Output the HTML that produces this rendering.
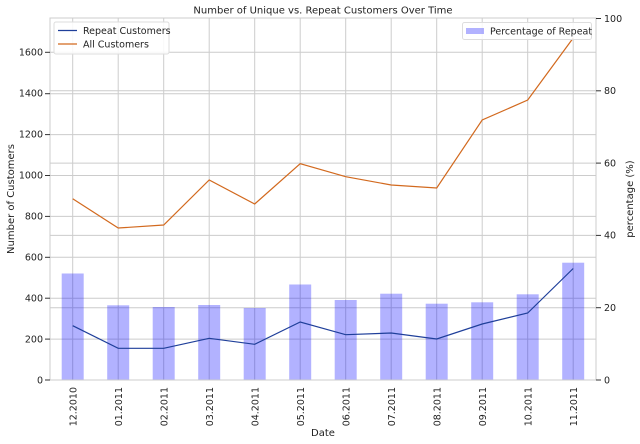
<!DOCTYPE html>
<html><head><meta charset="utf-8"><style>
html,body{margin:0;padding:0;background:#fff;}
svg{display:block;font-family:"DejaVu Sans","Liberation Sans",sans-serif;}
</style></head><body>
<svg width="640" height="444" viewBox="0 0 640 444" xmlns="http://www.w3.org/2000/svg">
<rect width="640" height="444" fill="#fff"/>
<g stroke="#cccccc" stroke-width="1">
<line x1="72.7" y1="18" x2="72.7" y2="380"/><line x1="118.2" y1="18" x2="118.2" y2="380"/>
<line x1="163.7" y1="18" x2="163.7" y2="380"/><line x1="209.2" y1="18" x2="209.2" y2="380"/>
<line x1="254.7" y1="18" x2="254.7" y2="380"/><line x1="300.2" y1="18" x2="300.2" y2="380"/>
<line x1="345.7" y1="18" x2="345.7" y2="380"/><line x1="391.2" y1="18" x2="391.2" y2="380"/>
<line x1="436.7" y1="18" x2="436.7" y2="380"/><line x1="482.2" y1="18" x2="482.2" y2="380"/>
<line x1="527.7" y1="18" x2="527.7" y2="380"/><line x1="573.2" y1="18" x2="573.2" y2="380"/>
<line x1="50" y1="339.1" x2="596" y2="339.1"/><line x1="50" y1="298.2" x2="596" y2="298.2"/>
<line x1="50" y1="257.3" x2="596" y2="257.3"/><line x1="50" y1="216.4" x2="596" y2="216.4"/>
<line x1="50" y1="175.5" x2="596" y2="175.5"/><line x1="50" y1="134.6" x2="596" y2="134.6"/>
<line x1="50" y1="93.7" x2="596" y2="93.7"/><line x1="50" y1="52.3" x2="596" y2="52.3"/>
<line x1="50" y1="307.7" x2="596" y2="307.7"/><line x1="50" y1="235.4" x2="596" y2="235.4"/>
<line x1="50" y1="163.1" x2="596" y2="163.1"/><line x1="50" y1="90.8" x2="596" y2="90.8"/>
</g>
<g fill="#0000ff" fill-opacity="0.3">
<rect x="61.7" y="273.5" width="22" height="106.5"/>
<rect x="107.2" y="305.3" width="22" height="74.7"/>
<rect x="152.7" y="307" width="22" height="73"/>
<rect x="198.2" y="305" width="22" height="75"/>
<rect x="243.7" y="308" width="22" height="72"/>
<rect x="289.2" y="284.5" width="22" height="95.5"/>
<rect x="334.7" y="300" width="22" height="80"/>
<rect x="380.2" y="293.7" width="22" height="86.3"/>
<rect x="425.7" y="303.7" width="22" height="76.3"/>
<rect x="471.2" y="302.3" width="22" height="77.7"/>
<rect x="516.7" y="294.3" width="22" height="85.7"/>
<rect x="562.2" y="262.7" width="22" height="117.3"/>
</g>
<polyline fill="none" stroke="#1f3f9a" stroke-width="1.2" points="72.7,325.7 118.2,348.3 163.7,348.3 209.2,338.3 254.7,344.3 300.2,322 345.7,334.7 391.2,333 436.7,339 482.2,324 527.7,313 573.2,268.5"/>
<polyline fill="none" stroke="#d2691e" stroke-width="1.2" points="72.7,198.7 118.2,228 163.7,225 209.2,180 254.7,204 300.2,163.7 345.7,176.7 391.2,185 436.7,188 482.2,120 527.7,100 573.2,38"/>
<rect x="50" y="18" width="546" height="362" fill="none" stroke="#cccccc" stroke-width="1"/>
<g stroke="#333" stroke-width="1">
<line x1="45" y1="380" x2="50" y2="380"/><line x1="45" y1="339.1" x2="50" y2="339.1"/>
<line x1="45" y1="298.2" x2="50" y2="298.2"/><line x1="45" y1="257.3" x2="50" y2="257.3"/>
<line x1="45" y1="216.4" x2="50" y2="216.4"/><line x1="45" y1="175.5" x2="50" y2="175.5"/>
<line x1="45" y1="134.6" x2="50" y2="134.6"/><line x1="45" y1="93.7" x2="50" y2="93.7"/>
<line x1="45" y1="52.3" x2="50" y2="52.3"/>
<line x1="596" y1="380" x2="601" y2="380"/><line x1="596" y1="307.7" x2="601" y2="307.7"/>
<line x1="596" y1="235.4" x2="601" y2="235.4"/><line x1="596" y1="163.1" x2="601" y2="163.1"/>
<line x1="596" y1="90.8" x2="601" y2="90.8"/><line x1="596" y1="18.5" x2="601" y2="18.5"/>
</g>
<g font-size="9.5" fill="#222" text-anchor="end">
<text x="43" y="383.5">0</text><text x="43" y="342.5">200</text><text x="43" y="301.5">400</text>
<text x="43" y="260.5">600</text><text x="43" y="219.5">800</text><text x="43" y="178.5">1000</text>
<text x="43" y="137.5">1200</text><text x="43" y="96.5">1400</text><text x="43" y="55.5">1600</text>
</g>
<g font-size="9.5" fill="#222">
<text x="604" y="383.5">0</text><text x="604" y="311">20</text><text x="604" y="238.5">40</text>
<text x="604" y="166.5">60</text><text x="604" y="94">80</text><text x="604" y="22">100</text>
</g>
<g font-size="9.5" fill="#222" text-anchor="end">
<text transform="translate(76.3,387) rotate(-90)">12.2010</text>
<text transform="translate(121.8,387) rotate(-90)">01.2011</text>
<text transform="translate(167.3,387) rotate(-90)">02.2011</text>
<text transform="translate(212.8,387) rotate(-90)">03.2011</text>
<text transform="translate(258.3,387) rotate(-90)">04.2011</text>
<text transform="translate(303.8,387) rotate(-90)">05.2011</text>
<text transform="translate(349.3,387) rotate(-90)">06.2011</text>
<text transform="translate(394.8,387) rotate(-90)">07.2011</text>
<text transform="translate(440.3,387) rotate(-90)">08.2011</text>
<text transform="translate(485.8,387) rotate(-90)">09.2011</text>
<text transform="translate(531.3,387) rotate(-90)">10.2011</text>
<text transform="translate(576.8,387) rotate(-90)">11.2011</text>
</g>
<text x="323" y="13.5" font-size="10" fill="#222" text-anchor="middle">Number of Unique vs. Repeat Customers Over Time</text>
<text x="323" y="436" font-size="10" fill="#222" text-anchor="middle">Date</text>
<text transform="translate(14,199) rotate(-90)" font-size="10" fill="#222" text-anchor="middle">Number of Customers</text>
<text transform="translate(633,199) rotate(-90)" font-size="10" fill="#222" text-anchor="middle">percentage (%)</text>
<rect x="54" y="22" width="115" height="32" fill="#fff" fill-opacity="0.85" stroke="#ddd" rx="2"/>
<line x1="58" y1="30.5" x2="77" y2="30.5" stroke="#1f3f9a" stroke-width="1.2"/>
<line x1="58" y1="44" x2="77" y2="44" stroke="#d2691e" stroke-width="1.2"/>
<text x="83" y="34" font-size="9.5" fill="#222">Repeat Customers</text>
<text x="83" y="47.5" font-size="9.5" fill="#222">All Customers</text>
<rect x="462.5" y="22.5" width="129" height="17" fill="#fff" fill-opacity="0.85" stroke="#ddd" rx="2"/>
<rect x="466" y="28" width="18" height="6" fill="#0000ff" fill-opacity="0.3"/>
<text x="490" y="34.5" font-size="9.5" fill="#222">Percentage of Repeat</text>
</svg>
</body></html>
